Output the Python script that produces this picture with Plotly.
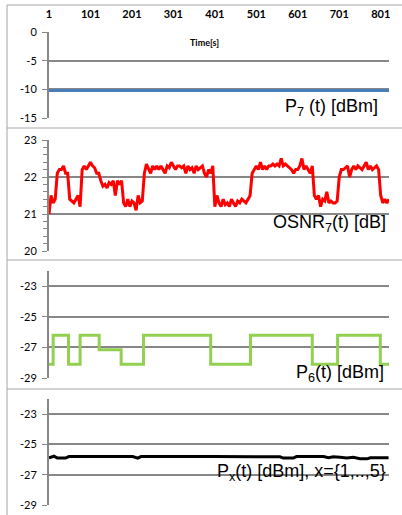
import plotly.graph_objects as go

W, H = 402, 515

# ---------------- data ----------------
t_p7 = [1, 821]
p7_dbm = [-10.2, -10.2]

osnr_step = 5  # samples between read-off points
osnr7_db = [
    21.0, 21.5, 21.3, 21.4, 22.1, 22.2, 22.2, 22.3, 22.1, 22.1,
    21.4, 21.35, 21.3, 21.4, 21.5, 21.2, 22.2, 22.3, 22.2, 22.3,
    22.4, 22.3, 22.25, 22.1, 22.1, 21.9, 21.75, 21.8, 21.7, 21.85,
    21.8, 21.9, 21.5, 21.9, 21.8, 21.9, 21.3, 21.2, 21.4, 21.2,
    21.35, 21.3, 21.1, 21.5, 21.3, 21.35, 22.1, 22.35, 22.2, 22.1,
    22.3, 22.2, 22.3, 22.2, 22.3, 22.2, 22.1, 22.3, 22.25, 22.4,
    22.3, 22.2, 22.3, 22.3, 22.25, 22.3, 22.1, 22.3, 22.2, 22.25,
    22.1, 22.3, 22.2, 22.25, 22.3, 22.1, 22.0, 22.2, 22.1, 22.3,
    21.2, 21.5, 21.3, 21.2, 21.4, 21.25, 21.3, 21.2, 21.4, 21.3,
    21.2, 21.35, 21.3, 21.4, 21.35, 21.3, 21.4, 21.5, 22.1, 22.2,
    22.3, 22.2, 22.4, 22.2, 22.3, 22.2, 22.3, 22.3, 22.35, 22.3,
    22.35, 22.3, 22.5, 22.3, 22.35, 22.3, 22.25, 22.2, 22.1, 22.2,
    22.2, 22.3, 22.5, 22.2, 22.3, 22.2, 22.1, 22.3, 21.5, 21.4,
    21.5, 21.2, 21.4, 21.35, 21.6, 21.3, 21.35, 21.3, 21.3, 21.35,
    22.0, 22.2, 22.2, 22.25, 22.3, 22.0, 22.2, 22.3, 22.2, 22.3,
    22.25, 22.2, 22.3, 22.4, 22.2, 22.3, 22.2, 22.25, 22.3, 22.2,
    21.5, 21.3, 21.4, 21.3, 21.4,
]
t_osnr = [1 + osnr_step * i for i in range(len(osnr7_db))]

t_p6 = [1, 11, 48, 76, 122, 175, 229, 391, 487, 636, 697, 800, 821]
p6_dbm = [-28.1, -26.2, -28.1, -26.2, -27.15, -28.1, -26.2, -28.1, -26.2,
          -28.1, -26.2, -28.1, -28.1]

t_px = [1, 13, 21, 41, 49, 203, 215, 223, 396, 558, 566, 590, 598, 663,
        675, 687, 703, 719, 735, 751, 768, 776, 820]
px_dbm = [-25.88, -25.78, -25.9, -25.9, -25.8, -25.8, -25.9, -25.8, -25.8,
          -25.82, -25.9, -25.9, -25.8, -25.8, -25.88, -25.82, -25.85, -25.9,
          -25.85, -25.95, -25.95, -25.88, -25.88]

time_ticks = [1, 101, 201, 301, 401, 501, 601, 701, 801]
p7_ticks = [0, -5, -10, -15]
osnr_ticks = [20, 21, 22, 23]
p6_ticks = [-23, -25, -27, -29]
px_ticks = [-23, -25, -27, -29]

# ---------------- helpers ----------------
def fx(px):
    return px / W

def fy(py):
    return 1 - py / H

GRID = "#878787"
FRAME = "#A6A6A6"
TICKFONT = dict(family="Lato", size=11, color="#000000")

fig = go.Figure()
fig.add_trace(go.Scatter(x=t_p7, y=p7_dbm, mode="lines",
                         line=dict(color="#4A7EBB", width=3), xaxis="x", yaxis="y"))
fig.add_trace(go.Scatter(x=t_osnr, y=osnr7_db, mode="lines",
                         line=dict(color="#FF0000", width=3), xaxis="x2", yaxis="y2"))
fig.add_trace(go.Scatter(x=t_p6, y=p6_dbm, mode="lines",
                         line=dict(color="#92D050", width=3, shape="hv"),
                         xaxis="x3", yaxis="y3"))
fig.add_trace(go.Scatter(x=t_px, y=px_dbm, mode="lines",
                         line=dict(color="#000000", width=3), xaxis="x4", yaxis="y4"))

xdom = [fx(49), fx(389)]
xr = [1, 821]

def xaxis(anchor, top=False):
    d = dict(domain=xdom, range=xr, anchor=anchor, showgrid=False, zeroline=False,
             showline=False, fixedrange=True, automargin=False)
    if top:
        d.update(side="top", tickvals=time_ticks, ticktext=[str(v) for v in time_ticks],
                 ticks="outside", ticklen=9, tickcolor="rgba(0,0,0,0)",
                 tickfont=dict(family="Lato", size=11, color="#000000", weight="bold"))
    else:
        d.update(showticklabels=False, ticks="")
    return d

def yaxis(anchor, dom, rng, tickvals, minor=None):
    d = dict(domain=dom, range=rng, anchor=anchor, tickvals=tickvals,
             ticktext=[str(v) for v in tickvals],
             showgrid=True, gridcolor=GRID, gridwidth=2, zeroline=False,
             showline=True, linecolor=GRID, linewidth=2,
             ticks="outside", ticklen=5, tickcolor=GRID, tickwidth=1,
             ticklabelstandoff=3, tickfont=TICKFONT, fixedrange=True,
             automargin=False)
    if minor:
        d["minor"] = minor
    return d

fig.update_layout(
    width=W, height=H, autosize=False, margin=dict(l=0, r=0, t=0, b=0, pad=0),
    paper_bgcolor="white", plot_bgcolor="white", showlegend=False,
    xaxis=xaxis("y", top=True),
    xaxis2=xaxis("y2"),
    xaxis3=xaxis("y3"),
    xaxis4=xaxis("y4"),
    yaxis=yaxis("x", [fy(118), fy(32)], [-15, 0], p7_ticks),
    yaxis2=yaxis("x2", [fy(251), fy(140)], [20, 23], osnr_ticks,
                 minor=dict(dtick=0.2, ticks="outside", ticklen=4,
                            tickcolor=GRID, showgrid=False)),
    yaxis3=yaxis("x3", [fy(378), fy(271)], [-29, -22], p6_ticks),
    yaxis4=yaxis("x4", [fy(505), fy(399)], [-29, -22], px_ticks),
)

# panel frames
shapes = []
for yy in [5, 128, 260, 389]:
    shapes.append(dict(type="line", xref="paper", yref="paper",
                       x0=fx(7), x1=1, y0=fy(yy), y1=fy(yy),
                       line=dict(color=FRAME, width=1)))
shapes.append(dict(type="line", xref="paper", yref="paper",
                   x0=fx(7), x1=fx(7), y0=fy(5), y1=0,
                   line=dict(color=FRAME, width=1)))
fig.update_layout(shapes=shapes)

LAB = dict(family="Liberation Sans", size=18, color="#000000")
ann = [
    dict(text="Time[s]", x=fx(205), y=fy(42),
         font=dict(family="Lato", size=9, color="#000000", weight="bold"), xanchor="center"),
    dict(text="P<sub>7</sub> (t) [dBm]", x=fx(380), y=fy(108), font=LAB, xanchor="right"),
    dict(text="OSNR<sub>7</sub>(t) [dB]", x=fx(388), y=fy(223), font=LAB, xanchor="right"),
    dict(text="P<sub>6</sub>(t) [dBm]", x=fx(386), y=fy(373), font=LAB, xanchor="right"),
    dict(text="P<sub>x</sub>(t) [dBm], x={1,..,5}", x=fx(388), y=fy(472), font=LAB,
         xanchor="right"),
]
for a in ann:
    a.update(xref="paper", yref="paper", yanchor="middle", showarrow=False)
fig.update_layout(annotations=ann)

fig.write_html(
    "out.html",
    config={"displayModeBar": False, "staticPlot": True},
    post_script="document.body.style.margin='0';document.body.style.overflow='hidden';",
)
